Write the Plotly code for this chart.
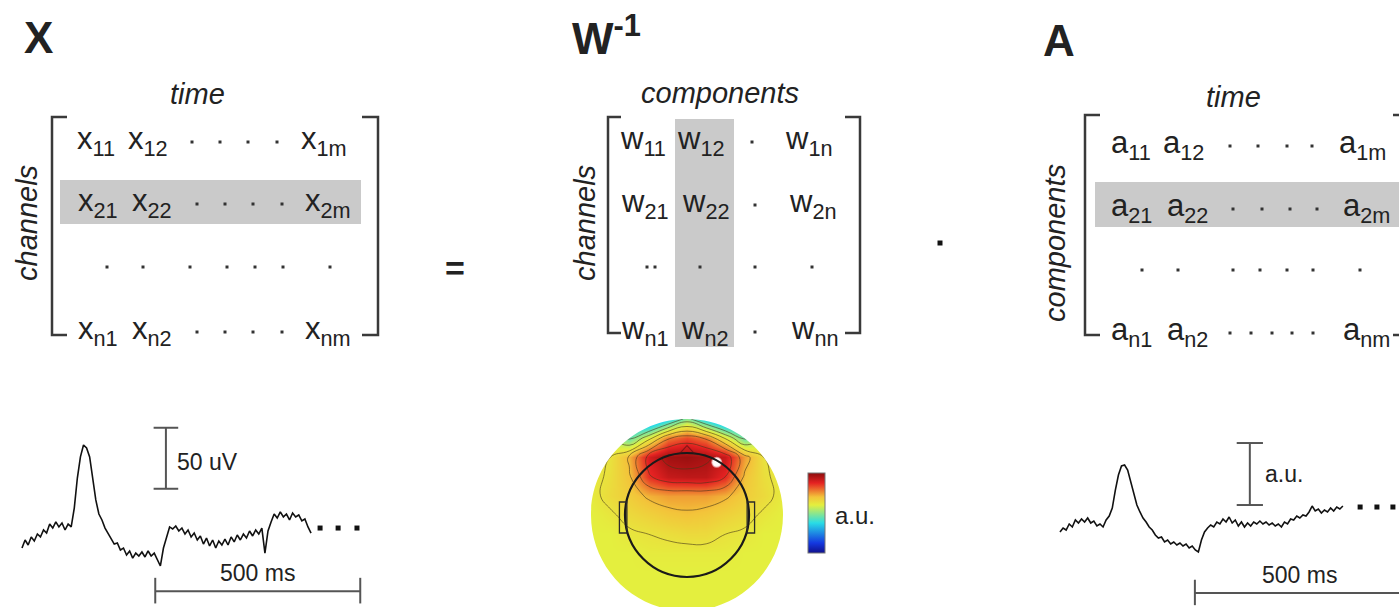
import plotly.graph_objects as go

W, H = 1399, 607
FONT = "Liberation Sans, Arial, sans-serif"
INK = "#222222"

# ---------------- data ----------------
sample_ms = 7.5  # sampling interval of both traces

# EEG channel trace (uV)
x_channel_uv = [-6.6, 0, -4.1, 2.5, -0.8, 4.9, 2.5, 8.2, 5.7, 13.1, 9.8, 14.8, 10.7, 13.9, 8.2, 13.1,
                10.7, 26.2, 50.8, 68.1, 77.9, 75.4, 68.1, 50.8, 32.8, 21.3, 16.4, 9.8, 5.7, 0.8, -3.3,
                -2.5, -8.2, -6.6, -12.3, -9.0, -14.8, -10.7, -13.1, -9.8, -13.9, -9.0, -13.1, -10.7,
                -16.4, -21.3, -6.6, 1.6, 10.7, 9.0, 11.5, 7.4, 9.8, 4.9, 8.2, 2.5, 5.7, 0, 3.3, -3.3,
                1.6, -4.9, 0, -6.6, -0.8, -4.1, 0.8, -4.1, 2.5, -1.6, 4.1, 0, 4.9, 1.6, 7.4, 3.3, 8.2,
                4.9, 9.8, -10.7, 7.4, 14.8, 21.3, 18.0, 23.0, 18.9, 21.3, 16.4, 22.1, 18.9, 20.5, 15.6,
                17.2, 10.7, 5.7]

# ICA component activation (a.u.)
a_component_au = [0, 0.65, 0.32, 1.29, 0.81, 1.94, 1.45, 2.10, 1.61, 2.26, 1.45, 1.77, 0.97, 1.29, 0.81,
                  1.94, 2.58, 3.87, 6.77, 9.19, 10.65, 10.81, 10.0, 8.06, 5.97, 4.35, 3.23, 2.26, 1.61,
                  0.81, 0.32, -0.48, -0.97, -0.81, -1.61, -1.29, -1.94, -1.61, -2.10, -1.77, -2.26,
                  -1.94, -2.58, -2.26, -2.90, -3.23, -1.29, 0, 0.65, 1.13, 0.81, 1.61, 1.29, 2.10, 1.61,
                  2.42, 1.45, 1.94, 0.97, 1.61, 0.81, 1.45, 0.97, 1.61, 1.29, 1.77, 1.29, 1.61, 1.13,
                  1.45, 0.97, 1.29, 0.81, 1.61, 1.29, 2.10, 1.94, 2.58, 2.26, 2.74, 2.58, 3.23, 4.19,
                  3.39, 3.71, 3.06, 3.55, 3.23, 3.87, 3.39, 4.03, 3.71, 4.19]

# scalp map of the component (normalised head units, head radius = 1)
topo_u = [-1.55, -1.24, -0.93, -0.62, -0.31, 0, 0.31, 0.62, 0.93, 1.24, 1.55]
topo_v = [1.55, 1.24, 0.93, 0.62, 0.31, 0, -0.31, -0.62, -0.93, -1.24, -1.55]
topo_z = [
    [0.50, 0.45, 0.28, 0.22, 0.35, 0.50, 0.35, 0.22, 0.28, 0.45, 0.50],
    [0.60, 0.55, 0.45, 0.60, 0.78, 0.83, 0.78, 0.62, 0.45, 0.55, 0.60],
    [0.61, 0.63, 0.72, 0.90, 0.97, 0.98, 0.96, 0.92, 0.74, 0.63, 0.61],
    [0.61, 0.64, 0.70, 0.86, 0.92, 0.93, 0.93, 0.87, 0.70, 0.64, 0.61],
    [0.61, 0.65, 0.68, 0.72, 0.74, 0.74, 0.74, 0.72, 0.68, 0.65, 0.61],
    [0.60, 0.62, 0.65, 0.67, 0.69, 0.70, 0.69, 0.67, 0.65, 0.62, 0.60],
    [0.60, 0.60, 0.62, 0.63, 0.64, 0.65, 0.65, 0.63, 0.62, 0.60, 0.60],
    [0.60, 0.60, 0.60, 0.61, 0.61, 0.61, 0.61, 0.61, 0.60, 0.60, 0.60],
    [0.60, 0.60, 0.60, 0.60, 0.60, 0.60, 0.60, 0.60, 0.60, 0.60, 0.60],
    [0.60, 0.60, 0.60, 0.60, 0.60, 0.60, 0.60, 0.60, 0.60, 0.60, 0.60],
    [0.60, 0.60, 0.60, 0.60, 0.60, 0.60, 0.60, 0.60, 0.60, 0.60, 0.60],
]
electrode_u = [0.48]
electrode_v = [0.85]

# matrix labels
x_entries = [["11", "12", "1m"], ["21", "22", "2m"], ["n1", "n2", "nm"]]
w_entries = [["11", "12", "1n"], ["21", "22", "2n"], ["n1", "n2", "nn"]]
a_entries = [["11", "12", "1m"], ["21", "22", "2m"], ["n1", "n2", "nm"]]

# ---------------- layout helpers ----------------
fig = go.Figure()
shapes, annos = [], []


def panel(ax, px_x0, px_x1, px_y0, px_y1, ox, oy, sx, sy):
    fig.layout[f"xaxis{ax}"] = dict(domain=[px_x0 / W, px_x1 / W],
                                    range=[(px_x0 - ox) / sx, (px_x1 - ox) / sx],
                                    visible=False, anchor=f"y{ax}", fixedrange=True)
    fig.layout[f"yaxis{ax}"] = dict(domain=[1 - px_y1 / H, 1 - px_y0 / H],
                                    range=[(oy - px_y1) / sy, (oy - px_y0) / sy],
                                    visible=False, anchor=f"x{ax}", fixedrange=True)


def text(t, x, y, size=28, ref="", **kw):
    d = dict(text=t, x=x, y=y, xref="x" + ref, yref="y" + ref, showarrow=False,
             font=dict(family=FONT, size=size, color=INK), xanchor="center", yanchor="middle")
    d.update(kw)
    annos.append(d)


def line(x0, y0, x1, y1, ref="", color="#3a3a3a", width=2.5):
    shapes.append(dict(type="line", x0=x0, y0=y0, x1=x1, y1=y1, xref="x" + ref, yref="y" + ref,
                       line=dict(color=color, width=width)))


def bracket(x, y0, y1, tick):
    shapes.append(dict(type="path", xref="x", yref="y",
                       path=f"M {x + tick},{y0} L {x},{y0} L {x},{y1} L {x + tick},{y1}",
                       line=dict(color="#3a3a3a", width=2.5)))


# main pixel axis
fig.layout.xaxis = dict(range=[0, W], domain=[0, 1], visible=False, fixedrange=True)
fig.layout.yaxis = dict(range=[H, 0], domain=[0, 1], visible=False, fixedrange=True)

# ---------------- matrices ----------------
shapes.append(dict(type="rect", xref="x", yref="y", x0=60, x1=361, y0=180, y1=224,
                   fillcolor="#cacaca", line_width=0, layer="below"))
shapes.append(dict(type="rect", xref="x", yref="y", x0=675, x1=734, y0=119, y1=347,
                   fillcolor="#cacaca", line_width=0, layer="below"))
shapes.append(dict(type="rect", xref="x", yref="y", x0=1095, x1=1399, y0=182, y1=227,
                   fillcolor="#cacaca", line_width=0, layer="below"))

bracket(52, 117, 335, 15)
bracket(378, 117, 335, -16)
bracket(608, 117, 333, 13)
bracket(860, 117, 333, -15)
bracket(1085, 115, 335, 15)
bracket(1406, 115, 335, -13)

# titles
text("<b>X</b>", 38, 37, size=44)
text("<b>W</b><sup><b>-1</b></sup>", 606, 35, size=44)
text("<b>A</b>", 1059, 40, size=44)

# axis words
text("<i>time</i>", 197, 94, size=29)
text("<i>components</i>", 720, 93, size=29)
text("<i>time</i>", 1233, 97, size=29)
text("<i>channels</i>", 27, 223, size=29, textangle=-90)
text("<i>channels</i>", 585, 223, size=29, textangle=-90)
text("<i>components</i>", 1055, 243, size=29, textangle=-90)


def entries(letter, labels, xs, ys):
    for r, row in enumerate(labels):
        for c, sub in enumerate(row):
            text(f"{letter}<sub>{sub}</sub>", xs[r][c], ys[r] + 4, size=31)


entries("x", x_entries, [[96, 148, 324], [98, 152, 328], [98, 152, 328]], [137, 199, 327])
entries("w", w_entries, [[643, 701, 809], [645, 706, 813], [645, 705, 815]], [137, 200, 327])
entries("a", a_entries, [[1131, 1183, 1362], [1131, 1187, 1366], [1131, 1187, 1366]], [141, 204, 328])

dot_x, dot_y = [], []
for xs, y in [([192, 220, 248, 277], 142), ([197, 225, 253, 282], 204),
              ([107, 143, 190, 227, 255, 283, 330], 267), ([197, 225, 253, 282], 332),
              ([752], 142), ([755], 205), ([647, 655, 700, 755, 812], 267), ([755], 332),
              ([1230, 1258, 1287, 1312], 146), ([1233, 1262, 1290, 1317], 209),
              ([1142, 1178, 1233, 1260, 1287, 1313, 1360], 270),
              ([1230, 1251, 1272, 1292, 1313], 333)]:
    dot_x += xs
    dot_y += [y] * len(xs)
fig.add_trace(go.Scatter(x=dot_x, y=dot_y, mode="markers", xaxis="x", yaxis="y",
                         marker=dict(symbol="square", size=3, color="#333"), hoverinfo="skip"))

text("<b>=</b>", 455, 268, size=34)
fig.add_trace(go.Scatter(x=[940], y=[243], mode="markers", xaxis="x", yaxis="y",
                         marker=dict(symbol="square", size=5, color="#111"), hoverinfo="skip"))

# ---------------- EEG channel trace ----------------
PX_PER_MS = 0.41
panel(2, 0, 430, 400, 607, 22, 540, PX_PER_MS, 1.22)
t_x = [k * sample_ms for k in range(len(x_channel_uv))]
fig.add_trace(go.Scatter(x=t_x, y=x_channel_uv, mode="lines", xaxis="x2", yaxis="y2",
                         line=dict(color="#111", width=1.6), hoverinfo="skip"))
fig.add_trace(go.Scatter(x=[727, 771, 817], y=[9.8, 9.8, 9.8], mode="markers", xaxis="x2", yaxis="y2",
                         marker=dict(symbol="square", size=5, color="#111"), hoverinfo="skip"))
SB = "#555"
line(351, 42, 351, 92, "2", SB, 2)
line(321, 42, 381, 42, "2", SB, 2)
line(321, 92, 381, 92, "2", SB, 2)
text("50 uV", 373, 64, size=23, ref="2", xanchor="left")
line(325, -42, 825, -42, "2", SB, 2)
line(325, -31, 325, -52, "2", SB, 2)
line(825, -31, 825, -52, "2", SB, 2)
text("500 ms", 575, -27, size=23, ref="2")

# ---------------- component trace ----------------
panel(3, 1000, W, 400, 607, 1060, 532, PX_PER_MS, 6.2)
t_a = [k * sample_ms for k in range(len(a_component_au))]
fig.add_trace(go.Scatter(x=t_a, y=a_component_au, mode="lines", xaxis="x3", yaxis="y3",
                         line=dict(color="#111", width=1.6), hoverinfo="skip"))
fig.add_trace(go.Scatter(x=[732, 773, 812], y=[4.03, 4.03, 4.03], mode="markers", xaxis="x3", yaxis="y3",
                         marker=dict(symbol="square", size=5, color="#111"), hoverinfo="skip"))
line(463, 4.35, 463, 14.35, "3", SB, 2)
line(431, 4.35, 495, 4.35, "3", SB, 2)
line(431, 14.35, 495, 14.35, "3", SB, 2)
text("a.u.", 496, 9.4, size=23, ref="3", xanchor="left")
line(329, -9.84, 840, -9.84, "3", SB, 2)
line(329, -7.7, 329, -11.8, "3", SB, 2)
text("500 ms", 585, -6.9, size=23, ref="3")

# ---------------- scalp map ----------------
panel(4, 587, 787, 412, 607, 687, 515, 62, 62)
jet = [[0.0, "#10108c"], [0.125, "#1438e0"], [0.375, "#28dce6"], [0.6, "#e4ef3e"],
       [0.7, "#f3c43a"], [0.875, "#e52222"], [1.0, "#8c0c0c"]]
fig.add_trace(go.Heatmap(
    x=topo_u, y=topo_v, z=topo_z, xaxis="x4", yaxis="y4", colorscale=jet, zmin=0, zmax=1,
    zsmooth="best", hoverinfo="skip",
    colorbar=dict(thickness=17, thicknessmode="pixels", len=80, lenmode="pixels",
                  x=808 / W, xanchor="left", y=1 - 513 / H, yanchor="middle",
                  outlinewidth=1, outlinecolor="#777", showticklabels=False, ticks="",
                  xpad=0, ypad=0)))
fig.add_trace(go.Contour(
    x=topo_u, y=topo_v, z=topo_z, xaxis="x4", yaxis="y4", showscale=False,
    autocontour=False, contours=dict(start=0.47, end=0.95, size=0.08, coloring="none", showlines=True),
    line=dict(color="rgba(70,55,25,0.6)", width=1, smoothing=1.3), hoverinfo="skip"))
fig.add_trace(go.Scatter(x=electrode_u, y=electrode_v, mode="markers", xaxis="x4", yaxis="y4",
                         marker=dict(size=9, color="white", line=dict(color="rgba(255,230,230,0.6)", width=2)),
                         hoverinfo="skip"))

R = 96 / 62
k = 0.5523 * R
circ = (f"M {R},0 C {R},{k} {k},{R} 0,{R} C {-k},{R} {-R},{k} {-R},0 "
        f"C {-R},{-k} {-k},{-R} 0,{-R} C {k},{-R} {R},{-k} {R},0 Z")
shapes.append(dict(type="path", xref="x4", yref="y4", layer="above", fillcolor="white",
                   fillrule="evenodd", line_width=0,
                   path="M -3,-3 L 3,-3 L 3,3 L -3,3 Z " + circ))
shapes.append(dict(type="circle", xref="x4", yref="y4", x0=-1, x1=1, y0=-1, y1=1, layer="above",
                   line=dict(color="#1a1a1a", width=2.2)))
for s in (-1, 1):
    shapes.append(dict(type="rect", xref="x4", yref="y4", x0=s * 0.97, x1=s * 1.09, y0=-0.29, y1=0.21,
                       layer="above", line=dict(color="#2a2a2a", width=1.3)))
shapes.append(dict(type="path", xref="x4", yref="y4", layer="above",
                   path="M -0.12,0.99 L 0,1.12 L 0.12,0.99",
                   line=dict(color="rgba(80,20,20,0.6)", width=1.2)))
text("a.u.", 833, 515, size=24, xanchor="left")

fig.update_layout(width=W, height=H, margin=dict(l=0, r=0, t=0, b=0),
                  paper_bgcolor="white", plot_bgcolor="rgba(0,0,0,0)", showlegend=False,
                  shapes=shapes, annotations=annos)
fig.write_html("out.html", config={"displayModeBar": False},
               post_script="document.body.style.margin='0px';")
